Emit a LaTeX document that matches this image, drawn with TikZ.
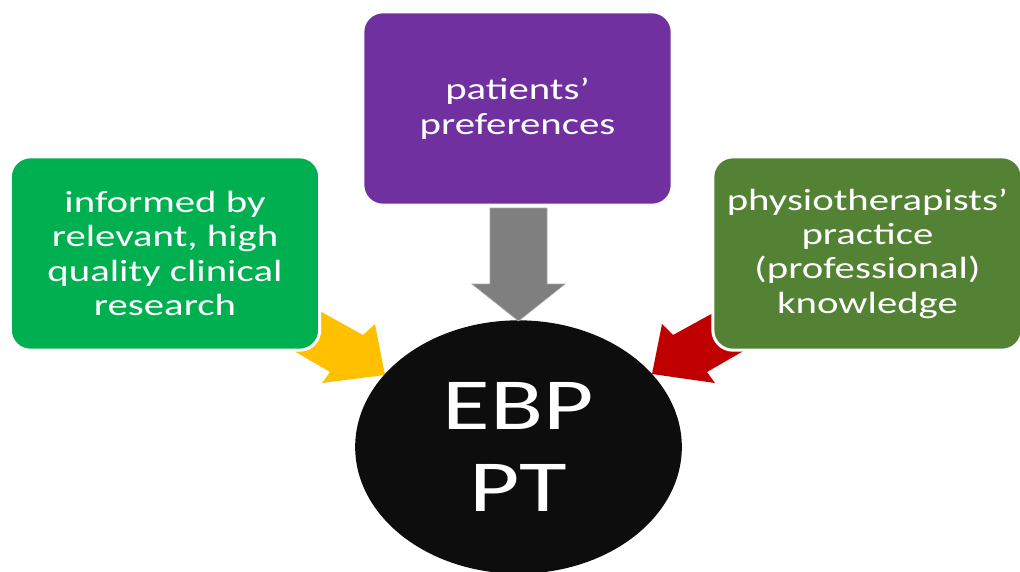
\documentclass[tikz,border=0pt]{standalone}
\usepackage{fontspec}
\setmainfont{Carlito}[FakeStretch=1.33]
\usetikzlibrary{shapes.geometric}

\definecolor{research}{HTML}{00B050}
\definecolor{patient}{HTML}{7030A0}
\definecolor{practice}{HTML}{548235}
\definecolor{ebpblack}{HTML}{0D0D0D}
\definecolor{arrowyellow}{HTML}{FFC000}
\definecolor{arrowred}{HTML}{C00000}
\definecolor{arrowgray}{HTML}{7F7F7F}

\tikzset{
  sourcebox/.style={rectangle, rounded corners=15pt, draw=white, line width=2.25pt,
    minimum width=232pt, minimum height=145pt, align=center, text=white,
    font=\fontsize{23}{25.8}\selectfont},
  ebpnode/.style={ellipse, fill=ebpblack, minimum width=245pt, minimum height=190pt,
    align=center, text=white, font=\fontsize{55}{62}\selectfont},
}

\begin{document}
\begin{tikzpicture}[x=0.75pt, y=-0.75pt]
                        \useasboundingbox (0,0) rectangle (1020,571);
                        % block arrows go under the boxes
                        \fill[arrowyellow] (282,290) -- (363,335) -- (375,324) -- (385,375) -- (322,383) -- (330,372) -- (258,330) -- cycle;
                        \fill[arrowred] (755,290) -- (673,335) -- (662,324) -- (652,374) -- (715,383) -- (707,372) -- (780,330) -- cycle;
                        \node[sourcebox, fill=research] (res) at (165,253.5) {informed by\\relevant, high\\quality clinical\\research};
                        \node[sourcebox, fill=patient] (pat) at (517.5,108.5) {patients’\\preferences};
                        \node[sourcebox, fill=practice] (prac) at (867.5,253.5) {physiotherapists’\\practice\\(professional)\\knowledge};
                        \node[ebpnode] (ebp) at (518.5,447) {EBP\\PT};
                        \filldraw[fill=arrowgray, draw=arrowgray!70!white, line width=0.5pt] (490,208) -- (547,208) -- (547,284) -- (565,284) -- (518.5,321) -- (472,284) -- (490,284) -- cycle;
                  \end{tikzpicture}
\end{document}
